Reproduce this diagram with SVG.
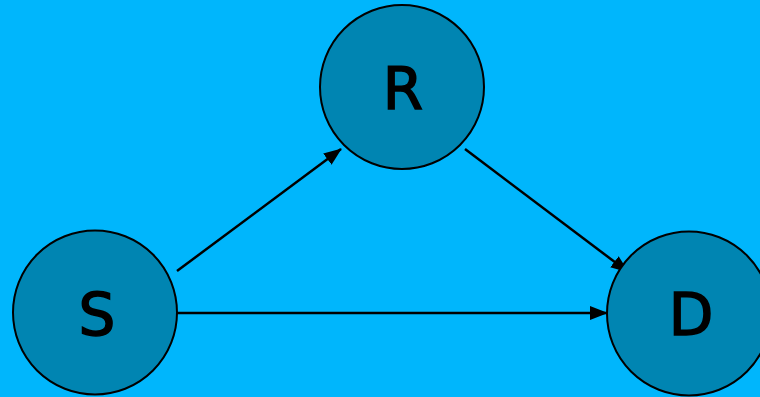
<svg xmlns="http://www.w3.org/2000/svg" width="760" height="397" viewBox="0 0 760 397">
<style>
.node{fill:#0085B2;stroke:#000;stroke-width:2}
.lbl{font-family:"Comic Sans MS","DejaVu Sans",sans-serif;font-size:58px;fill:#000;text-anchor:middle;stroke:#000;stroke-width:1.5}
.edge{stroke:#000;stroke-width:2.5;fill:none;marker-end:url(#ah)}
</style>
<defs>
<marker id="ah" markerWidth="18" markerHeight="14" refX="17" refY="7" orient="auto" markerUnits="userSpaceOnUse">
<path d="M0,0 L18,7 L0,14 Z" fill="#000"/>
</marker>
</defs>
<rect width="760" height="397" fill="#00B6FC"/>
<g id="connectors">
<line class="edge" x1="177" y1="271" x2="341" y2="149"/>
<line class="edge" x1="465" y1="149" x2="628" y2="272"/>
<line class="edge" x1="177" y1="313" x2="607" y2="313"/>
</g>
<g id="R"><circle class="node" cx="402" cy="87" r="82"/><text class="lbl" x="403" y="109">R</text></g>
<g id="S"><circle class="node" cx="95" cy="312.5" r="82"/><text class="lbl" x="97" y="335">S</text></g>
<g id="D"><circle class="node" cx="689" cy="313.5" r="82"/><text class="lbl" x="691" y="335">D</text></g>
</svg>
